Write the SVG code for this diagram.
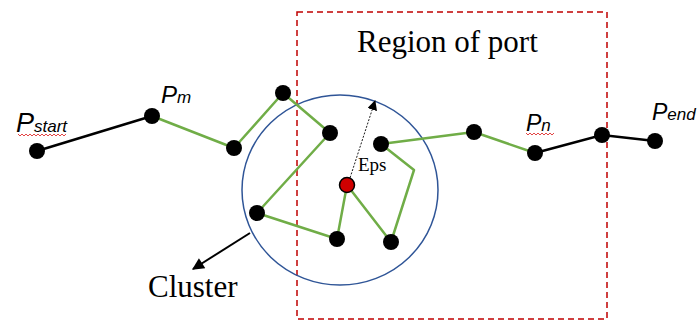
<svg xmlns="http://www.w3.org/2000/svg" width="697" height="322" viewBox="0 0 697 322">
<defs>
<style>
.blk{fill:none;stroke:#000;stroke-width:2.5}
.grn{fill:none;stroke:#70AD47;stroke-width:2.5;stroke-linejoin:round}
.dot{fill:#000}
.serif{font-family:"Liberation Serif","Times New Roman",serif;fill:#000}
.lab{font-family:"Liberation Sans",Arial,sans-serif;font-style:italic;fill:#000}
.sq{fill:none;stroke:#E03030;stroke-width:0.9}
</style>
<marker id="ah" viewBox="0 0 10 10" refX="9" refY="5" markerWidth="10" markerHeight="10" markerUnits="userSpaceOnUse" orient="auto">
<path d="M0,0 L10,5 L0,10 z" fill="#000"/>
</marker>
<marker id="ah2" viewBox="0 0 10 10" refX="9" refY="5" markerWidth="14" markerHeight="12" markerUnits="userSpaceOnUse" orient="auto">
<path d="M0,0 L10,5 L0,10 z" fill="#000"/>
</marker>
</defs>
<rect width="697" height="322" fill="#fff"/>
<g id="region">
<rect x="297" y="12" width="310" height="307" fill="none" stroke="#C00000" stroke-width="1.5" stroke-dasharray="6,4"/>
<text class="serif" x="357" y="52" font-size="31">Region of port</text>
</g>
<g id="cluster">
<ellipse cx="340" cy="190" rx="98" ry="95" fill="none" stroke="#2F5597" stroke-width="1.5"/>
<text class="serif" x="148" y="297" font-size="31">Cluster</text>
</g>
<g id="connectors">
<polyline class="blk" points="37,151 152,116"/>
<polyline class="grn" points="152,116 234,148 283,93 330,133 257,213 337,239 347,185 391,242 414,170 381,144 474,132 535,153"/>
<polyline class="blk" points="535,153 602,135 655,141"/>
<line x1="250" y1="233" x2="193" y2="269" stroke="#000" stroke-width="2" marker-end="url(#ah2)"/>
<line x1="349" y1="181" x2="375" y2="101" stroke="#000" stroke-width="0.9" stroke-dasharray="2,1.5" marker-end="url(#ah)"/>
<text class="serif" x="358" y="171" font-size="19">Eps</text>
</g>
<g id="nodes">
<circle class="dot" cx="37" cy="151" r="8"/>
<circle class="dot" cx="152" cy="116" r="8"/>
<circle class="dot" cx="234" cy="148" r="8"/>
<circle class="dot" cx="283" cy="93" r="8"/>
<circle class="dot" cx="330" cy="133" r="8"/>
<circle class="dot" cx="257" cy="213" r="8"/>
<circle class="dot" cx="337" cy="239" r="8"/>
<circle class="dot" cx="391" cy="242" r="8"/>
<circle class="dot" cx="381" cy="144" r="8"/>
<circle class="dot" cx="474" cy="132" r="8"/>
<circle class="dot" cx="535" cy="153" r="8"/>
<circle class="dot" cx="602" cy="135" r="8"/>
<circle class="dot" cx="655" cy="141" r="8"/>
<circle cx="347" cy="185" r="7.5" fill="#D00000" stroke="#000" stroke-width="1.5"/>
</g>
<g id="labels">
<text class="lab" x="16" y="132" font-size="27">P<tspan font-size="17">start</tspan></text>
<path class="sq" d="M18,134 l2,2 l2,-2 l2,2 l2,-2 l2,2 l2,-2 l2,2 l2,-2 l2,2 l2,-2 l2,2 l2,-2 l2,2 l2,-2 l2,2 l2,-2 l2,2 l2,-2 l2,2 l2,-2 l2,2 l2,-2 l2,2 l2,-2"/>
<text class="lab" x="161" y="103" font-size="24">P<tspan font-size="17">m</tspan></text>
<text class="lab" x="526" y="131" font-size="23">P<tspan font-size="17">n</tspan></text>
<path class="sq" d="M526,133 l2,2 l2,-2 l2,2 l2,-2 l2,2 l2,-2 l2,2 l2,-2 l2,2 l2,-2 l2,2 l2,-2 l2,2 l2,-2"/>
<text class="lab" x="652" y="120" font-size="23">P<tspan font-size="17">end</tspan></text>
</g>
</svg>
